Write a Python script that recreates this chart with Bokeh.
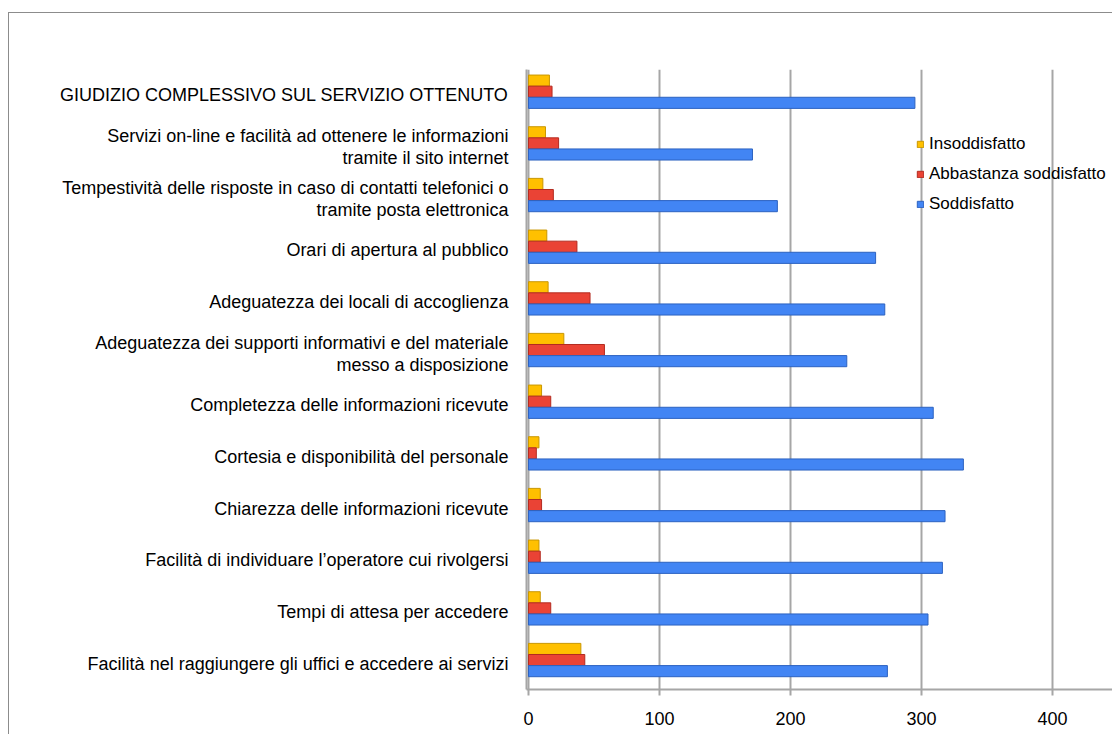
from bokeh.plotting import figure
from bokeh.models import FactorRange, FixedTicker, ColumnDataSource
from bokeh.transform import dodge
from bokeh.embed import file_html
from bokeh.resources import INLINE

# categories listed bottom -> top
categories = [
    "Facilità nel raggiungere gli uffici e accedere ai servizi",
    "Tempi di attesa per accedere",
    "Facilità di individuare l’operatore cui rivolgersi",
    "Chiarezza delle informazioni ricevute",
    "Cortesia e disponibilità del personale",
    "Completezza delle informazioni ricevute",
    "Adeguatezza dei supporti informativi e del materiale\nmesso a disposizione",
    "Adeguatezza dei locali di accoglienza",
    "Orari di apertura al pubblico",
    "Tempestività delle risposte in caso di contatti telefonici o\ntramite posta elettronica",
    "Servizi on-line e facilità ad ottenere le informazioni\ntramite il sito internet",
    "GIUDIZIO COMPLESSIVO SUL SERVIZIO OTTENUTO",
]
insoddisfatto = [40, 9, 8, 9, 8, 10, 27, 15, 14, 11, 13, 16]
abbastanza = [43, 17, 9, 10, 6, 17, 58, 47, 37, 19, 23, 18]
soddisfatto = [274, 305, 316, 318, 332, 309, 243, 272, 265, 190, 171, 295]
x_ticks = [0, 100, 200, 300, 400]

FONT = "Liberation Sans"

src = ColumnDataSource(dict(cat=categories, ins=insoddisfatto, abb=abbastanza, sod=soddisfatto))

p = figure(
    width=1104, height=722,
    y_range=FactorRange(factors=categories, range_padding=0),
    x_range=(-1.5, 446.6),
    output_backend="svg", toolbar_location=None,
    min_border_left=517, min_border_top=56, min_border_bottom=46, min_border_right=0,
)
p.margin = (12, 0, 0, 8)
p.styles = {"border-left": "1px solid #8c8c8c", "border-top": "1px solid #8c8c8c"}
p.outline_line_color = None
p.background_fill_color = "white"
p.border_fill_color = "white"

h = 0.215
p.hbar(y=dodge("cat", 0.285, range=p.y_range), left=0, right="ins", height=h, source=src,
       fill_color="#FFC000", line_color="#C99700", line_width=1, legend_label="Insoddisfatto")
p.hbar(y=dodge("cat", 0.07, range=p.y_range), left=0, right="abb", height=h, source=src,
       fill_color="#EA4335", line_color="#B32B20", line_width=1, legend_label="Abbastanza soddisfatto")
p.hbar(y=dodge("cat", -0.145, range=p.y_range), left=0, right="sod", height=h, source=src,
       fill_color="#4285F4", line_color="#2C62C0", line_width=1, legend_label="Soddisfatto")

# axes
p.xaxis.ticker = FixedTicker(ticks=x_ticks)
p.xaxis.axis_line_color = "#A6A6A6"
p.xaxis.axis_line_width = 2
p.xaxis.major_tick_line_color = "#A6A6A6"
p.xaxis.major_tick_line_width = 2
p.xaxis.major_tick_out = 6
p.xaxis.major_tick_in = 0
p.xaxis.minor_tick_line_color = None
p.xaxis.major_label_text_font = FONT
p.xaxis.major_label_text_font_size = "18px"
p.xaxis.major_label_text_color = "black"
p.xaxis.major_label_standoff = 16

p.yaxis.axis_line_color = "#A6A6A6"
p.yaxis.axis_line_width = 2
p.yaxis.major_tick_line_color = None
p.yaxis.major_label_text_font = FONT
p.yaxis.major_label_text_font_size = "18px"
p.yaxis.major_label_text_color = "black"
p.yaxis.major_label_text_line_height = 1.1
p.yaxis.major_label_standoff = 12

p.xgrid.grid_line_color = "#A6A6A6"
p.xgrid.grid_line_width = 2
p.ygrid.grid_line_color = None

lg = p.legend[0]
lg.location = (390, 475)
lg.border_line_color = None
lg.background_fill_alpha = 0
lg.glyph_width = 8
lg.glyph_height = 8
lg.label_text_font = FONT
lg.label_text_font_size = "17px"
lg.label_text_color = "black"
lg.label_height = 20
lg.spacing = 10
lg.padding = 0
lg.margin = 0
lg.label_standoff = 5

open("out.html", "w").write(file_html(p, INLINE))
